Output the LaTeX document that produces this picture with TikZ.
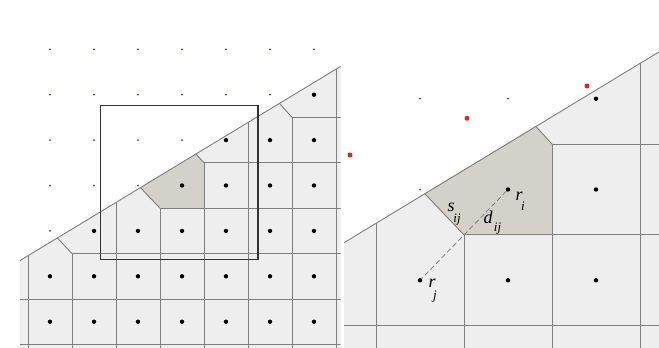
\documentclass[tikz,border=0pt]{standalone}
\usepackage{fontspec}
\setmainfont{Liberation Serif}
\definecolor{cellfill}{HTML}{EEEEEE}
\definecolor{hicell}{HTML}{D4D0CA}
\definecolor{edgec}{HTML}{7F7F7F}
\definecolor{bluedot}{HTML}{3A3AA0}
\definecolor{reddot}{HTML}{D42A2A}
\definecolor{boxc}{HTML}{333333}
\tikzset{
  edge/.style={draw=edgec, line width=0.9pt},
  boxline/.style={draw=boxc, line width=1.5pt},
  bdot/.style={circle, fill=black, inner sep=0pt, minimum size=4.4pt},
  udot/.style={circle, fill=bluedot, inner sep=0pt, minimum size=2pt},
  rdot/.style={circle, fill=reddot, inner sep=0pt, minimum size=5pt},
  dashline/.style={draw=edgec, line width=0.8pt, dash pattern=on 5pt off 3pt},
  lbl/.style={inner sep=0pt, font=\fontsize{18}{18}\selectfont\itshape},
  sublbl/.style={inner sep=0pt, font=\fontsize{13}{13}\selectfont\itshape},
}
\newcommand\drawscene[1]{%
  \fill[cellfill] (20,260.6) -- (345,63.7) -- (345,360) -- (15,360) -- (15,263.6) -- cycle;
  \fill[hicell] (140.3,187.5) -- (195.8,153.8) -- (204,162.8) -- (204,208.2) -- (160,208.2) -- cycle;
  % verticals
  \draw[edge] (28,255.7) -- (28,360);
  \draw[edge] (72,253.6) -- (72,360);
  \draw[edge] (116,202.3) -- (116,360);
  \draw[edge] (160,208.2) -- (160,360);
  \draw[edge] (204,162.8) -- (204,360);
  \draw[edge] (248,122.2) -- (248,360);
  \draw[edge] (292,117.4) -- (292,360);
  \draw[edge] (336,68.7) -- (336,360);
  % horizontals
  \draw[edge] (292,117.4) -- (345,117.4);
  \draw[edge] (204,162.8) -- (345,162.8);
  \draw[edge] (160,208.2) -- (345,208.2);
  \draw[edge] (72,253.6) -- (345,253.6);
  \draw[edge] (15,299) -- (345,299);
  \draw[edge] (15,344.4) -- (345,344.4);
  % diagonals
  \draw[edge] (57.3,237.9) -- (72,253.6);
  \draw[edge] (140.3,187.5) -- (160,208.2);
  \draw[edge] (195.8,153.8) -- (204,162.8);
  \draw[edge] (279.3,103.2) -- (292,117.4);
  % boundary
  \draw[edge] (15,263.6) -- (345,63.7);
  % particles inside
  \foreach \j/\lst in {2/{7},3/{5,6,7},4/{4,5,6,7},5/{2,3,4,5,6,7},6/{1,2,3,4,5,6,7},7/{1,2,3,4,5,6,7}}
    \foreach \i in \lst
      \node[bdot] (#1k\i\j) at ({6+44*\i},{3.9+45.4*\j}) {};
  % particles outside
  \foreach \j/\lst in {1/{1,2,3,4,5,6,7},2/{1,2,3,4,5,6},3/{1,2,3,4},4/{1,2,3},5/{1}}
    \foreach \i in \lst
      \node[udot] (#1u\i\j) at ({6+44*\i},{3.9+45.4*\j}) {};
}
\begin{document}
\begin{tikzpicture}[x=1pt,y=-1pt]
  \useasboundingbox (0,0) rectangle (659,348);
  \fill[white] (0,0) rectangle (659,348);
  % left panel
  \begin{scope}
    \clip (20,38) rectangle (340.5,348);
    \drawscene{L}
  \end{scope}
  \draw[boxline] (100.7,105.3) rectangle (258,259.3);
  % right panel (magnified)
  \begin{scope}
    \clip (344,25) rectangle (659,348);
    \begin{scope}[shift={(144,-181.5)}, scale=2]
      \drawscene{R}
    \end{scope}
    \draw[dashline] (Rk44) -- (Rk35);
    \node[rdot] (g1) at (350,155) {};
    \node[rdot] (g2) at (467,118.3) {};
    \node[rdot] (g3) at (587,86) {};
    \node[lbl] (sL) at (451,207) {s};
    \node[sublbl] (sLij) at (457,219.5) {ij};
    \node[lbl] (dL) at (488,217.5) {d};
    \node[sublbl] (dLij) at (497.5,229) {ij};
    \node[lbl] (riL) at (519,196.5) {r};
    \node[sublbl] (riS) at (523,206.5) {i};
    \node[lbl] (rjL) at (432,283) {r};
    \node[sublbl] (rjS) at (435,296.5) {j};
  \end{scope}
\end{tikzpicture}
\end{document}
